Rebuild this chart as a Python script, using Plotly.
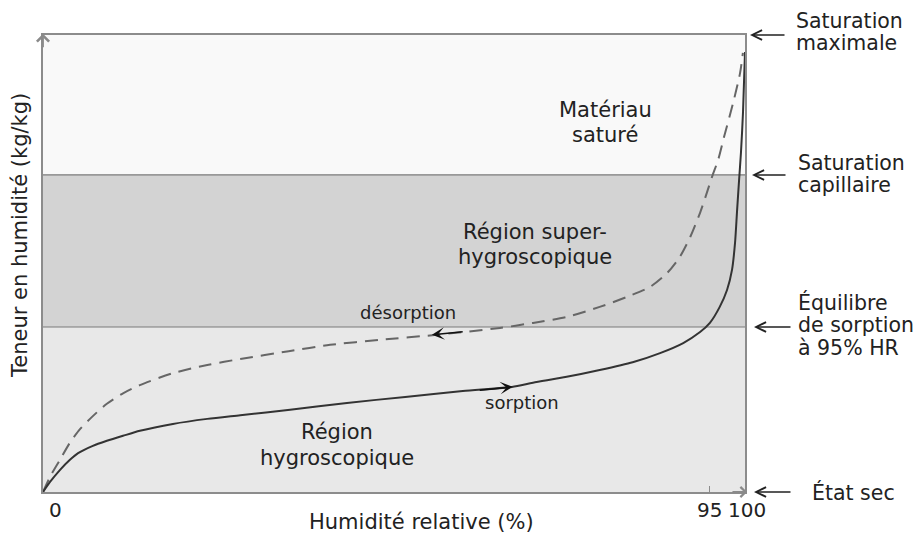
import plotly.graph_objects as go

# ---- data (relative humidity %, moisture content in % of maximum) ----
rh_sorption = [0, 1.0, 2.4, 3.8, 5.0, 7.1, 9.1, 11.4, 13.8, 18.5, 23.4, 28.1, 35.2, 43.3, 51.6, 59.8, 66.8,
               69.8, 74.6, 79.3, 84.0, 87.9, 91.2, 93.6, 95.0, 96.4, 97.44, 98.15, 98.58, 98.86, 99.15, 99.43,
               99.72, 100]
mc_sorption = [0, 2.2, 4.8, 7.0, 8.5, 10.1, 11.2, 12.3, 13.4, 14.9, 16.0, 16.8, 18.0, 19.5, 20.8, 22.1, 23.0,
               23.9, 25.2, 26.7, 28.4, 30.4, 32.6, 35.0, 37.0, 40.5, 44.2, 48.6, 54.5, 61.3, 68.1, 74.4,
               83.2, 96.3]

rh_desorption = [0, 1.0, 2.4, 3.8, 5.3, 7.1, 9.1, 11.4, 13.8, 18.5, 23.4, 28.1, 35.0, 40.9, 48.0, 56.1, 65.1,
                 69.8, 74.6, 79.3, 83.2, 86.5, 88.9, 90.7, 92.2, 93.6, 94.7, 95.4, 96.2, 97.0, 98.3, 99.3, 99.7]
mc_desorption = [0, 3.3, 7.0, 10.7, 13.8, 16.6, 19.3, 21.6, 23.4, 26.0, 27.8, 29.1, 30.8, 32.2, 33.3, 34.4, 35.9,
                 37.0, 38.3, 40.5, 42.7, 44.9, 47.9, 51.4, 55.8, 61.1, 66.1, 69.4, 72.8, 77.6, 85.1, 91.7, 96.1]

level_names = ["État sec", "Équilibre\nde sorption\nà 95% HR", "Saturation\ncapillaire", "Saturation\nmaximale"]
level_values = [0, 36.1, 69.4, 100]

region_names = ["Région\nhygroscopique", "Région super-\nhygroscopique", "Matériau\nsaturé"]
region_colors = ["#e8e8e8", "#d3d3d3", "#f9f9f9"]

x_tick_values = [0, 95, 100]
x_tick_labels = ["0", "95", "100"]

x_title = "Humidité relative (%)"
y_title = "Teneur en humidité (kg/kg)"

FONT = "DejaVu Sans"
TXT = "#222222"
L, T, W, H = 43, 35, 702, 457  # plot area in pixels


def px(xp):
    return (xp - L) / W


def py(yp):
    return (T + H - yp) / H


fig = go.Figure()

# background bands
for i, col in enumerate(region_colors):
    fig.add_shape(type="rect", xref="x", yref="y", x0=0, x1=100,
                  y0=level_values[i], y1=level_values[i + 1],
                  fillcolor=col, line_width=0, layer="below")
for v in level_values[1:3]:
    fig.add_shape(type="line", xref="x", yref="y", x0=0, x1=100, y0=v, y1=v,
                  line=dict(color="#7a7a7a", width=1.2), layer="below")

fig.add_trace(go.Scatter(x=rh_desorption, y=mc_desorption, mode="lines",
                         line=dict(color="#666666", width=2, dash="13px,8px", shape="spline", smoothing=0.7),
                         hoverinfo="skip", showlegend=False))
fig.add_trace(go.Scatter(x=rh_sorption, y=mc_sorption, mode="lines",
                         line=dict(color="#333333", width=2, shape="spline", smoothing=0.7),
                         hoverinfo="skip", showlegend=False))

ann = []
# direction arrows on curves
ann.append(dict(x=66.9, y=23.02, ax=62.0, ay=22.25, xref="x", yref="y", axref="x", ayref="y",
                text="", showarrow=True, arrowhead=3, arrowsize=1.4, arrowwidth=1.5, arrowcolor="#111"))
ann.append(dict(x=55.4, y=34.4, ax=60.0, ay=35.1, xref="x", yref="y", axref="x", ayref="y",
                text="", showarrow=True, arrowhead=3, arrowsize=1.4, arrowwidth=1.5, arrowcolor="#111"))

# axis arrowheads
ann.append(dict(x=0, y=100.3, ax=0, ay=97, xref="x", yref="y", axref="x", ayref="y",
                text="", showarrow=True, arrowhead=4, arrowsize=1.3, arrowwidth=1.8, arrowcolor="#8a8a8a"))
ann.append(dict(x=100.3, y=0, ax=98, ay=0, xref="x", yref="y", axref="x", ayref="y",
                text="", showarrow=True, arrowhead=4, arrowsize=1.1, arrowwidth=1.8, arrowcolor="#8a8a8a"))


def add_lines(text, xpix, ypix_list, size, anchor):
    for line, yp in zip(text.split("\n"), ypix_list):
        ann.append(dict(x=px(xpix), y=py(yp), xref="paper", yref="paper", text=line, showarrow=False,
                        font=dict(family=FONT, size=size, color=TXT), xanchor=anchor, yanchor="middle"))


# region labels
region_pos = [(337, [432, 458]), (535, [232, 257]), (605, [110, 135])]
for name, (xp, ys) in zip(region_names, region_pos):
    add_lines(name, xp, ys, 21, "center")

add_lines("désorption", 408, [313], 18, "center")
add_lines("sorption", 522, [402], 18, "center")

# right-side level labels with arrows
label_pos = [(810, [492]), (796, [302, 325, 348]), (796, [163, 185]), (794, [21, 43])]
arrow_pos = [(754, 792, 492), (754, 792, 327), (752, 787, 175), (750, 786, 35)]
for name, (lx, ys), (a0, a1, ay_) in zip(level_names, label_pos, arrow_pos):
    ann.append(dict(x=px(a0), y=py(ay_), xref="paper", yref="paper",
                    ax=a1 - a0, ay=0, axref="pixel", ayref="pixel", text="", showarrow=True,
                    arrowhead=5, arrowsize=1.3, arrowwidth=1.5, arrowcolor="#222"))
    add_lines(name, lx, ys, 20.5, "left")

# x tick labels
tick_shift = [12, 0, 2]
for v, t, s in zip(x_tick_values, x_tick_labels, tick_shift):
    ann.append(dict(x=v, y=py(510), xref="x", yref="paper", text=t, showarrow=False, xshift=s,
                    font=dict(family=FONT, size=20, color=TXT), xanchor="center", yanchor="middle"))

# axis titles
ann.append(dict(x=px(421), y=py(522), xref="paper", yref="paper", text=x_title, showarrow=False,
                font=dict(family=FONT, size=21, color=TXT), xanchor="center", yanchor="middle"))
ann.append(dict(x=px(20), y=py(236), xref="paper", yref="paper", text=y_title, showarrow=False,
                textangle=-90, font=dict(family=FONT, size=21, color=TXT), xanchor="center", yanchor="middle"))

fig.update_layout(
    width=919, height=534,
    margin=dict(l=L, r=919 - L - W, t=T, b=534 - T - H),
    paper_bgcolor="white", plot_bgcolor="white",
    annotations=ann,
    xaxis=dict(range=[0, 100], showgrid=False, zeroline=False, showline=True, mirror=True,
               linecolor="#8c8c8c", linewidth=1.8, tickvals=[95], ticktext=[""], ticks="inside",
               ticklen=6, tickcolor="#8c8c8c", tickwidth=1, fixedrange=True),
    yaxis=dict(range=[0, 100], showgrid=False, zeroline=False, showline=True, mirror=True,
               linecolor="#8c8c8c", linewidth=1.8, showticklabels=False, ticks="", fixedrange=True),
    showlegend=False,
)

fig.write_html("out.html", config={"displayModeBar": False},
               post_script="document.body.style.margin='0px';")
